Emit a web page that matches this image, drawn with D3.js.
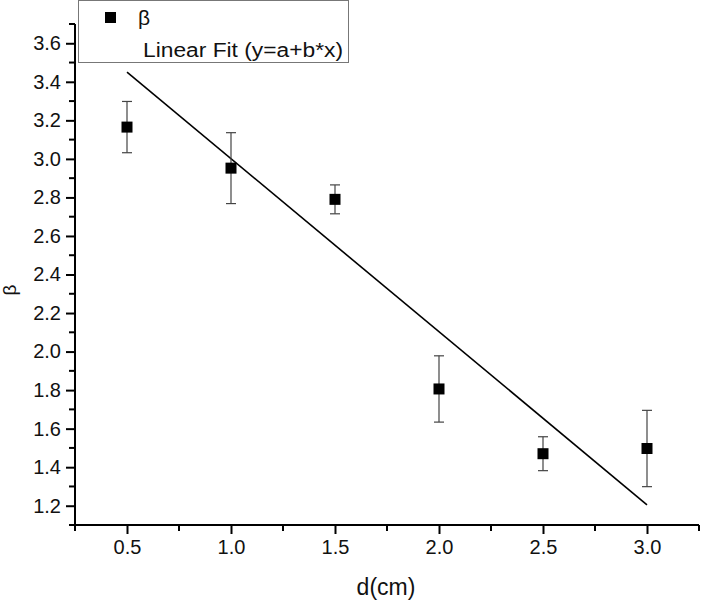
<!DOCTYPE html>
<html>
<head>
<meta charset="utf-8">
<script src="https://cdn.jsdelivr.net/npm/d3@7"></script>
<style>
  html, body { margin: 0; padding: 0; background: #fff; }
  svg { display: block; font-family: "Liberation Sans", Arial, sans-serif; }
</style>
</head>
<body>
<svg id="chart" width="702" height="603"></svg>
<script>
// Data
const dValues = [0.5, 1.0, 1.5, 2.0, 2.5, 3.0];
const betaValues = [3.165, 2.952, 2.79, 1.806, 1.47, 1.497];
const betaErrors = [0.133, 0.184, 0.075, 0.172, 0.088, 0.198];
const fitX = [0.5, 3.0];
const fitY = [3.45, 1.205];
const xTickLabels = ["0.5", "1.0", "1.5", "2.0", "2.5", "3.0"];
const yTickLabels = ["1.2", "1.4", "1.6", "1.8", "2.0", "2.2", "2.4", "2.6", "2.8", "3.0", "3.2", "3.4", "3.6"];
const legendLabels = ["β", "Linear Fit (y=a+b*x)"];

const svg = d3.select("#chart");
const mLeft = 75, mRight = 699, mTop = 24, mBottom = 525;

const x = d3.scaleLinear().domain([0.25, 3.25]).range([mLeft, mRight]);
const y = d3.scaleLinear().domain([1.1, 3.7]).range([mBottom, mTop]);

// minor ticks
const xMinor = d3.range(0.25, 3.26, 0.5);
const yMinor = d3.range(1.1, 3.71, 0.2);

// X axis
const xAxis = d3.axisBottom(x)
  .tickValues(xTickLabels.map(Number))
  .tickFormat((d, i) => xTickLabels[i])
  .tickSize(9).tickPadding(6).tickSizeOuter(0);
const gx = svg.append("g").attr("transform", `translate(0,${mBottom})`).call(xAxis);
gx.select(".domain").attr("stroke", "#000").attr("stroke-width", 2).attr("d", `M${mLeft - 2},0H${mRight}`);
gx.selectAll(".tick line").attr("stroke-width", 2);
gx.selectAll(".tick text").attr("font-size", 20).attr("fill", "#111").attr("font-family", "Liberation Sans, Arial, sans-serif");
svg.append("g").attr("transform", `translate(0,${mBottom})`)
  .selectAll("line").data(xMinor).join("line")
  .attr("x1", d => x(d)).attr("x2", d => x(d))
  .attr("y1", 0).attr("y2", 6)
  .attr("stroke", "#000").attr("stroke-width", 2);

// Y axis
const yAxis = d3.axisLeft(y)
  .tickValues(yTickLabels.map(Number))
  .tickFormat((d, i) => yTickLabels[i])
  .tickSize(9).tickPadding(5).tickSizeOuter(0);
const gy = svg.append("g").attr("transform", `translate(${mLeft},0)`).call(yAxis);
gy.select(".domain").attr("stroke", "#000").attr("stroke-width", 2).attr("d", `M0,${mTop}V${mBottom + 1}`);
gy.selectAll(".tick line").attr("stroke-width", 2);
gy.selectAll(".tick text").attr("font-size", 20).attr("fill", "#111").attr("font-family", "Liberation Sans, Arial, sans-serif");
svg.append("g").attr("transform", `translate(${mLeft},0)`)
  .selectAll("line").data(yMinor).join("line")
  .attr("x1", 0).attr("x2", -6)
  .attr("y1", d => y(d)).attr("y2", d => y(d))
  .attr("stroke", "#000").attr("stroke-width", 2);

// Axis titles
svg.append("text").attr("x", (mLeft + mRight) / 2 - 1).attr("y", 595)
  .attr("text-anchor", "middle").attr("font-size", 23).attr("fill", "#111")
  .text("d(cm)");
svg.append("text").attr("transform", `translate(16,290) rotate(-90)`)
  .attr("text-anchor", "middle").attr("font-size", 19).attr("fill", "#111")
  .text("β");

// Fit line
svg.append("line")
  .attr("x1", x(fitX[0])).attr("y1", y(fitY[0]))
  .attr("x2", x(fitX[1])).attr("y2", y(fitY[1]))
  .attr("stroke", "#000").attr("stroke-width", 1.6);

// Error bars
const eb = svg.append("g").attr("stroke", "#444").attr("stroke-width", 1.2);
dValues.forEach((d, i) => {
  const cx = x(d), yt = y(betaValues[i] + betaErrors[i]), yb = y(betaValues[i] - betaErrors[i]);
  eb.append("line").attr("x1", cx).attr("x2", cx).attr("y1", yt).attr("y2", yb);
  eb.append("line").attr("x1", cx - 5).attr("x2", cx + 5).attr("y1", yt).attr("y2", yt);
  eb.append("line").attr("x1", cx - 5).attr("x2", cx + 5).attr("y1", yb).attr("y2", yb);
});

// Markers
const ms = 11;
svg.append("g").selectAll("rect").data(dValues).join("rect")
  .attr("x", d => x(d) - ms / 2)
  .attr("y", (d, i) => y(betaValues[i]) - ms / 2)
  .attr("width", ms).attr("height", ms)
  .attr("fill", "#000");

// Legend
const lg = svg.append("g");
lg.append("rect").attr("x", 78.5).attr("y", 0.5).attr("width", 270).attr("height", 62)
  .attr("fill", "#fff").attr("stroke", "#777").attr("stroke-width", 1);
lg.append("rect").attr("x", 105).attr("y", 12).attr("width", 11).attr("height", 11).attr("fill", "#000");
lg.append("text").attr("x", 138).attr("y", 25).attr("font-size", 21).attr("fill", "#111").text(legendLabels[0]);
lg.append("text").attr("x", 143).attr("y", 57).attr("font-size", 20).attr("fill", "#111")
  .attr("textLength", 200).attr("lengthAdjust", "spacingAndGlyphs").text(legendLabels[1]);
</script>
</body>
</html>
